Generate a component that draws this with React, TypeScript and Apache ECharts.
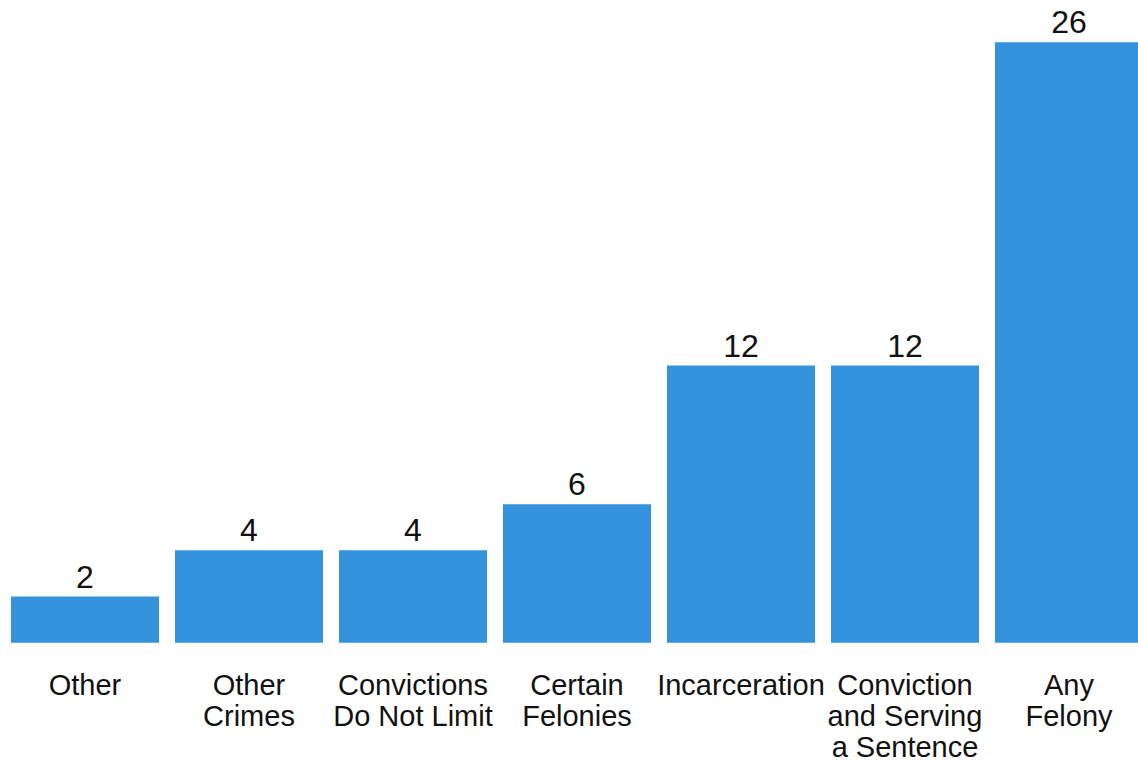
import React, { useEffect, useRef } from "react";
import * as echarts from "echarts";

const categories = [
  "Other",
  "Other\nCrimes",
  "Convictions\nDo Not Limit",
  "Certain\nFelonies",
  "Incarceration",
  "Conviction\nand Serving\na Sentence",
  "Any\nFelony",
];
const values = [2, 4, 4, 6, 12, 12, 26];

export default function App() {
  const ref = useRef<HTMLDivElement>(null);
  useEffect(() => {
    if (!ref.current) return;
    const chart = echarts.init(ref.current, null, { renderer: "svg" });
    chart.setOption({
      animation: false,
      backgroundColor: "#ffffff",
      grid: { left: 3, width: 1148, top: 42.3, bottom: 121.3, containLabel: false },
      xAxis: {
        type: "category",
        data: categories,
        axisLine: { show: false },
        axisTick: { show: false },
        axisLabel: {
          interval: 0,
          margin: 27,
          color: "#111",
          fontFamily: "Liberation Sans, Arial, sans-serif",
          fontSize: 29,
          lineHeight: 31,
        },
      },
      yAxis: {
        type: "value",
        min: 0,
        max: 26,
        show: false,
        splitLine: { show: false },
      },
      series: [
        {
          type: "bar",
          data: values,
          barWidth: 148,
          itemStyle: { color: "#3592DC" },
          label: {
            show: true,
            position: "top",
            distance: 4,
            color: "#111",
            fontFamily: "Liberation Sans, Arial, sans-serif",
            fontSize: 32,
          },
        },
      ],
    });
    return () => chart.dispose();
  }, []);
  return (
    <div
      ref={ref}
      style={{ position: "fixed", left: 0, top: 0, width: 1160, height: 764 }}
    />
  );
}
